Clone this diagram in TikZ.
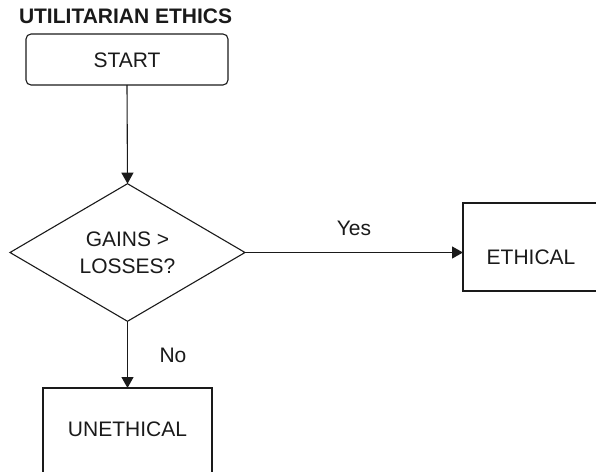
\documentclass[tikz,border=0pt]{standalone}
\usepackage{fontspec}
\setmainfont{Liberation Sans}
\usetikzlibrary{shapes.geometric,arrows.meta}

\definecolor{ink}{HTML}{1A1A1A}

\tikzset{
  every node/.style={text=ink, font=\fontsize{21pt}{27pt}\selectfont, inner sep=0pt, outer sep=0pt},
  flowline/.style={draw=ink, line width=1.1pt},
  flowarrow/.style={flowline, -{Triangle[length=11pt,width=12pt]}},
  startbox/.style={draw=ink, line width=1.1pt, rounded corners=5pt,
    minimum width=202pt, minimum height=51pt, text height=15pt, text depth=0pt},
  decision/.style={draw=ink, line width=1.1pt, diamond, align=center,
    minimum width=235pt, minimum height=133pt},
  outcome/.style={draw=ink, line width=1.1pt, rectangle},
  branchlabel/.style={text height=15pt, text depth=0pt},
}

\begin{document}
\begin{tikzpicture}[x=1pt, y=-1pt]
  \useasboundingbox (0,0) rectangle (596,471);
  \clip (0,0) rectangle (596,471);

  % heading
  \node[anchor=base west, font=\fontsize{21pt}{25pt}\selectfont\bfseries] (title) at (19,23) {UTILITARIAN ETHICS};

  % flow elements
  \node[startbox] (start) at (127,59.5) {START};
  \node[decision] (gains) at (127.5,252.5) {GAINS >\\LOSSES?};
  \node[outcome, minimum width=136pt, minimum height=88pt,
        text height=34pt, text depth=0pt] (ethical) at (531,247) {ETHICAL};
  \node[outcome, minimum width=169pt, minimum height=90pt,
        text height=15pt, text depth=9pt] (unethical) at (127.5,433) {UNETHICAL};

  % connectors
  \draw[flowarrow] (start.south) -- (gains.north);
  \draw[flowarrow] (gains.east) -- node[midway, above=17pt, branchlabel] (yes) {Yes} (gains.east -| ethical.west);
  \draw[flowarrow] (gains.south) -- node[midway, right=32pt, branchlabel] (no) {No} (unethical.north);
\end{tikzpicture}
\end{document}
